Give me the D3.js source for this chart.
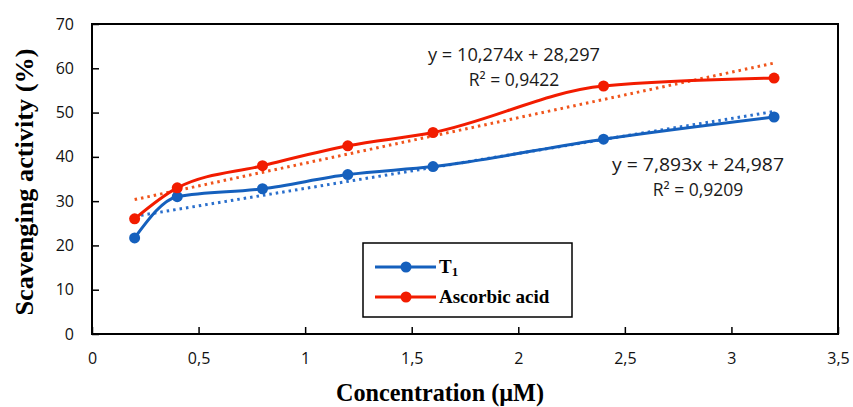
<!DOCTYPE html>
<html>
<head>
<meta charset="utf-8">
<script src="https://cdn.jsdelivr.net/npm/d3@7"></script>
<style>
  body { margin: 0; background: #fff; }
  svg { display: block; }
</style>
</head>
<body>
<div id="chart"></div>
<script>
// Datos
const concentrations = [0.2, 0.4, 0.8, 1.2, 1.6, 2.4, 3.2];
const t1Values = [21.7, 31, 32.8, 36, 37.8, 44, 49];
const ascorbicValues = [26, 33, 38, 42.5, 45.5, 56, 57.8];
const seriesNames = ['T', 'Ascorbic acid'];
const trendSlopes = [7.893, 10.274];
const trendIntercepts = [24.987, 28.297];
const trendLabels = [
  ['y = 7,893x + 24,987', 'R² = 0,9209'],
  ['y = 10,274x + 28,297', 'R² = 0,9422']
];
const xTicks = [0, 0.5, 1, 1.5, 2, 2.5, 3, 3.5];
const yTicks = [0, 10, 20, 30, 40, 50, 60, 70];

const width = 853, height = 407;
const margin = { top: 24, right: 15, bottom: 73, left: 92 };

const svg = d3.select('#chart').append('svg')
  .attr('width', width)
  .attr('height', height);

const x = d3.scaleLinear().domain([0, 3.5]).range([margin.left, width - margin.right]);
const y = d3.scaleLinear().domain([0, 70]).range([height - margin.bottom, margin.top]);

const lineColors = ['#1560bd', '#f21c00'];
const trendColors = ['#2a6fcc', '#f0551c'];
const tickFont = '"Open Sans", sans-serif';
const titleFont = '"Liberation Serif", serif';

// Marco del área de trazado
svg.append('rect')
  .attr('x', x(0)).attr('y', y(70))
  .attr('width', x(3.5) - x(0)).attr('height', y(0) - y(70))
  .attr('fill', 'none').attr('stroke', '#000').attr('stroke-width', 2);

// Ejes (marcas hacia dentro)
const xAxis = svg.append('g')
  .attr('transform', `translate(0,${y(0)})`)
  .call(d3.axisBottom(x).tickValues(xTicks).tickSizeInner(-7).tickSizeOuter(0)
    .tickFormat(d => String(d).replace('.', ',')));
const yAxis = svg.append('g')
  .attr('transform', `translate(${x(0)},0)`)
  .call(d3.axisLeft(y).tickValues(yTicks).tickSizeInner(-7).tickSizeOuter(0));

[xAxis, yAxis].forEach(g => {
  g.select('.domain').remove();
  g.selectAll('.tick line').attr('stroke', '#000').attr('stroke-width', 1.5);
  g.selectAll('.tick text')
    .attr('font-family', tickFont)
    .attr('font-size', '16px')
    .attr('fill', '#111');
});
xAxis.selectAll('.tick text').attr('dy', null).attr('y', 30);
yAxis.selectAll('.tick text').attr('x', -18);

// Líneas de tendencia (punteadas)
const trendLine = d3.line().x(d => x(d[0])).y(d => y(d[1]));
trendSlopes.forEach((m, i) => {
  const x0 = d3.min(concentrations), x1 = d3.max(concentrations);
  svg.append('path')
    .attr('d', trendLine([[x0, m * x0 + trendIntercepts[i]], [x1, m * x1 + trendIntercepts[i]]]))
    .attr('fill', 'none')
    .attr('stroke', trendColors[i])
    .attr('stroke-width', 3)
    .attr('stroke-dasharray', '2.5,4');
});

// Series suavizadas con marcadores
const smooth = d3.line()
  .x(d => x(d[0])).y(d => y(d[1]))
  .curve(d3.curveMonotoneX);

[t1Values, ascorbicValues].forEach((vals, i) => {
  const pts = concentrations.map((c, j) => [c, vals[j]]);
  svg.append('path')
    .attr('d', smooth(pts))
    .attr('fill', 'none')
    .attr('stroke', lineColors[i])
    .attr('stroke-width', 3);
  svg.append('g').selectAll('circle')
    .data(pts)
    .enter().append('circle')
    .attr('cx', d => x(d[0]))
    .attr('cy', d => y(d[1]))
    .attr('r', 5.5)
    .attr('fill', lineColors[i]);
});

// Ecuaciones de las tendencias
const labelPos = [[698, 165], [514, 55]];
trendLabels.forEach((lines, i) => {
  const t = svg.append('text')
    .attr('font-family', tickFont)
    .attr('font-size', '17.5px')
    .attr('fill', '#1a1a1a')
    .attr('text-anchor', 'middle');
  lines.forEach((s, k) => {
    t.append('tspan')
      .attr('x', labelPos[i][0])
      .attr('y', labelPos[i][1] + k * 25 + 6)
      .attr('textLength', k === 0 ? 172 : null)
      .attr('lengthAdjust', 'spacingAndGlyphs')
      .text(s);
  });
});

// Leyenda
const legend = svg.append('g');
legend.append('rect')
  .attr('x', 363).attr('y', 243).attr('width', 209).attr('height', 74)
  .attr('fill', '#fff').attr('stroke', '#000').attr('stroke-width', 1.5);
seriesNames.forEach((name, i) => {
  const ly = 267 + i * 30;
  legend.append('line')
    .attr('x1', 375).attr('x2', 436).attr('y1', ly).attr('y2', ly)
    .attr('stroke', lineColors[i]).attr('stroke-width', 3);
  legend.append('circle')
    .attr('cx', 406).attr('cy', ly).attr('r', 5.5).attr('fill', lineColors[i]);
  const t = legend.append('text')
    .attr('x', 439).attr('y', ly + 6)
    .attr('font-family', titleFont)
    .attr('font-weight', 'bold')
    .attr('font-size', '19px')
    .attr('fill', '#000')
    .text(name);
  if (i === 0) {
    t.append('tspan').attr('font-size', '13px').attr('dy', 3).text('1');
  }
});

// Títulos de ejes
svg.append('text')
  .attr('x', 440)
  .attr('y', 401)
  .attr('text-anchor', 'middle')
  .attr('font-family', titleFont)
  .attr('font-weight', 'bold')
  .attr('font-size', '25px')
  .attr('textLength', 208)
  .attr('lengthAdjust', 'spacingAndGlyphs')
  .text('Concentration (µM)');

svg.append('text')
  .attr('transform', `translate(33,182) rotate(-90)`)
  .attr('text-anchor', 'middle')
  .attr('font-family', titleFont)
  .attr('font-weight', 'bold')
  .attr('font-size', '25px')
  .attr('textLength', 267)
  .attr('lengthAdjust', 'spacingAndGlyphs')
  .text('Scavenging activity (%)');
</script>
</body>
</html>
